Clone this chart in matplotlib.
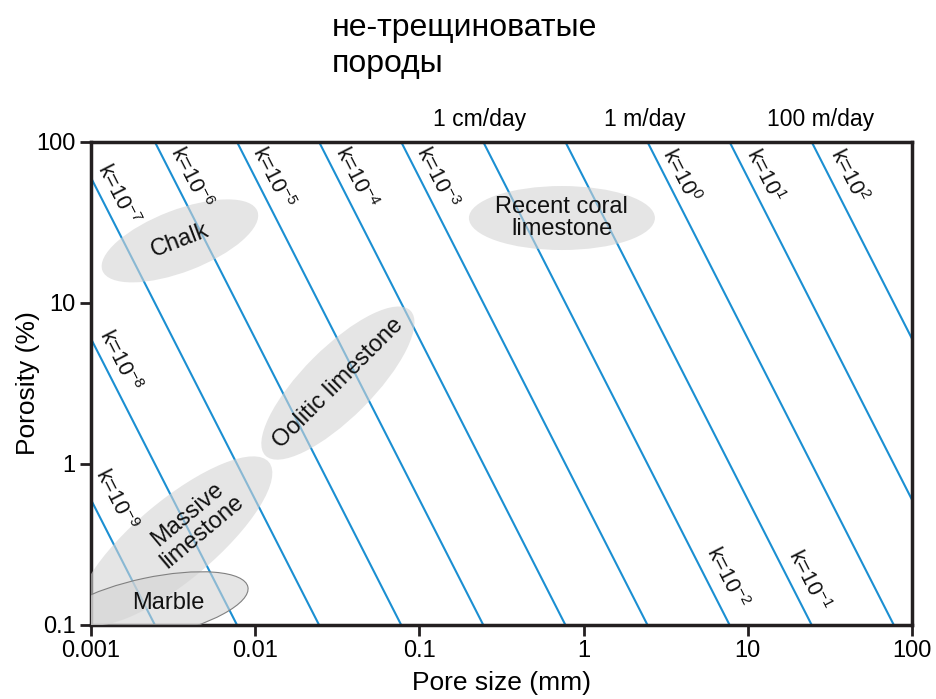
import numpy as np
from matplotlib import pyplot as plt
from matplotlib.patches import Ellipse
from matplotlib.transforms import ScaledTranslation

plt.rcParams['font.family'] = ['Liberation Sans', 'DejaVu Sans']
plt.rcParams['mathtext.default'] = 'regular'

# permeability lines: log10(k) and where each one crosses the frame
k_exp = [-9, -8, -7, -6, -5, -4, -3, -2, -1, 0, 1, 2]
x_start = [0.001, 0.001, 0.001, 0.00245, 0.00775, 0.0245, 0.0775, 0.245, 0.775, 2.45, 7.75, 24.5]
y_start = [0.6, 6.0, 60.0, 100, 100, 100, 100, 100, 100, 100, 100, 100]
x_end = [0.00245, 0.00775, 0.0245, 0.0775, 0.245, 0.775, 2.45, 7.75, 24.5, 77.5, 100, 100]
y_end = [0.1, 0.1, 0.1, 0.1, 0.1, 0.1, 0.1, 0.1, 0.1, 0.1, 0.6, 6.0]

# label positions for each k line
lab_x = [0.00142, 0.00150, 0.00146, 0.00401, 0.0128, 0.0406, 0.128, 7.47, 23.3, 3.92, 12.7, 40.8]
lab_y = [0.597, 4.42, 46.9, 59.8, 59.8, 59.8, 59.8, 0.196, 0.190, 61.5, 61.5, 61.5]

# flow rates along the top
rate_labels = ["1 cm/day", "1 m/day", "100 m/day"]
rate_x = [0.234, 2.37, 27.9]

# rock types
rock_names = ["Chalk", "Recent coral\nlimestone", "Oolitic limestone",
              "Massive\nlimestone", "Marble"]
rock_x = [0.00348, 0.738, 0.0319, 0.00325, 0.00229]
rock_y = [24.3, 33.7, 3.18, 0.333, 0.128]
rock_text_x = [0.00348, 0.738, 0.0319, 0.0043, 0.00294]
rock_text_y = [24.3, 33.7, 3.18, 0.43, 0.137]

xticks = [0.001, 0.01, 0.1, 1, 10, 100]
xticklabels = ["0.001", "0.01", "0.1", "1", "10", "100"]
yticks = [0.1, 1, 10, 100]
yticklabels = ["0.1", "1", "10", "100"]

blue = '#1b8fd2'
dark = '#231f20'

fig = plt.figure(figsize=(9.37, 6.99), dpi=100)
ax = fig.add_axes([0.0971, 0.1059, 0.8762, 0.691])
ax.set_xscale('log')
ax.set_yscale('log')
ax.set_xlim(0.001, 100)
ax.set_ylim(0.1, 100)

for i in range(len(k_exp)):
    ax.plot([x_start[i], x_end[i]], [y_start[i], y_end[i]], color=blue,
            lw=1.5, zorder=2, solid_capstyle='butt')

# rotation of the k lines on screen
p1 = ax.transData.transform((x_start[5], y_start[5]))
p2 = ax.transData.transform((x_end[5], y_end[5]))
ang = np.degrees(np.arctan2(p2[1] - p1[1], p2[0] - p1[0]))

for i in range(len(k_exp)):
    ax.text(lab_x[i], lab_y[i], r"k=10$^{%d}$" % k_exp[i], rotation=ang,
            rotation_mode='anchor', ha='center', va='center', fontsize=15.5,
            color='#111111', zorder=5)

# ellipses sized in inches, centred on data points
ell_w = [1.66, 1.86, 2.05, 2.45, 2.0]
ell_h = [0.62, 0.64, 0.70, 0.80, 0.60]
ell_ang = [21, 0, 45, 40, 12]
txt_ang = [21, 0, 45, 40, 0]
for i in range(len(rock_names)):
    tr = fig.dpi_scale_trans + ScaledTranslation(rock_x[i], rock_y[i], ax.transData)
    e = Ellipse((0, 0), ell_w[i], ell_h[i], angle=ell_ang[i], transform=tr,
                facecolor='#d4d4d4', alpha=0.6, edgecolor='none', zorder=3)
    ax.add_patch(e)
    if rock_names[i] == "Marble":
        e2 = Ellipse((0, 0), ell_w[i], ell_h[i], angle=ell_ang[i], transform=tr,
                     facecolor='none', edgecolor='#808080', lw=0.8, zorder=3)
        ax.add_patch(e2)
    ax.text(rock_text_x[i], rock_text_y[i], rock_names[i], rotation=txt_ang[i],
            rotation_mode='anchor', ha='center', va='center', fontsize=17,
            color='#111111', zorder=5, linespacing=1.0)

ax.set_xlim(0.001, 100)
ax.set_ylim(0.1, 100)

for x, s in zip(rate_x, rate_labels):
    ax.text(x, 137, s, ha='center', va='center', fontsize=16.5, clip_on=False)

ax.set_xticks(xticks)
ax.set_xticklabels(xticklabels)
ax.set_yticks(yticks)
ax.set_yticklabels(yticklabels)
ax.minorticks_off()
ax.tick_params(direction='out', length=8, width=2, labelsize=17, color=dark,
               pad=3)
for s in ax.spines.values():
    s.set_linewidth(2.5)
    s.set_color(dark)

ax.set_xlabel("Pore size (mm)", fontsize=19, labelpad=6)
ax.set_ylabel("Porosity (%)", fontsize=19, labelpad=-3)

fig.text(332 / 937, 1 - 13 / 699, "не-трещиноватые\nпороды", ha='left', va='top',
         fontsize=23, linespacing=1.25)

fig.savefig("out.png", dpi=100)
